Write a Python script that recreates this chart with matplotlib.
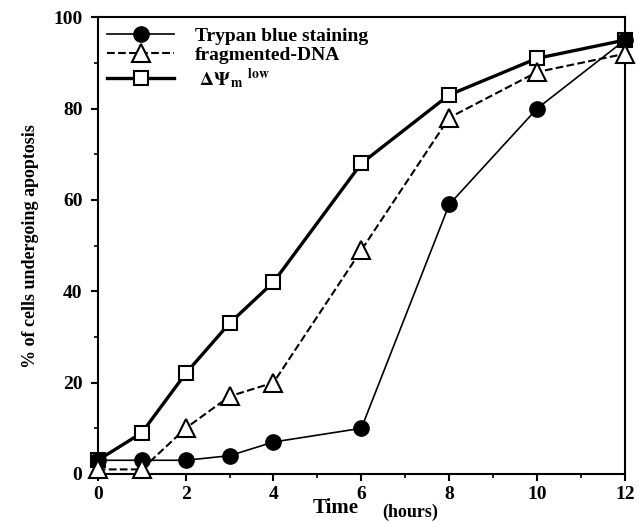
import numpy as np
import matplotlib
matplotlib.use("Agg")
import matplotlib.pyplot as plt

plt.rcParams['font.family'] = ['Liberation Serif', 'DejaVu Serif']
plt.rcParams['font.weight'] = 'bold'
plt.rcParams['mathtext.fontset'] = 'stix'

time_h = [0, 1, 2, 3, 4, 6, 8, 10, 12]
trypan = [3, 3, 3, 4, 7, 10, 59, 80, 95]
frag_dna = [1, 1, 10, 17, 20, 49, 78, 88, 92]
dpsi_low = [3, 9, 22, 33, 42, 68, 83, 91, 95]
labels = ['Trypan blue staining', 'fragmented-DNA', r' $\Delta\Psi_{\rm m}$ $^{\rm low}$']

fig = plt.figure(figsize=(6.39, 5.22), dpi=100)
ax = fig.add_axes([0.153, 0.092, 0.825, 0.875])

ax.plot(time_h, trypan, '-', color='black', lw=1.2, marker='o', ms=11,
        mfc='black', mec='black', label=labels[0], zorder=4, clip_on=False)
ax.plot(time_h, frag_dna, '--', color='black', lw=1.5, marker='^', ms=13,
        mfc='white', mec='black', mew=1.5, label=labels[1], zorder=5, clip_on=False)
ax.plot(time_h, dpsi_low, '-', color='black', lw=2.4, marker='s', ms=10,
        mfc='white', mec='black', mew=1.5, label=labels[2], zorder=3, clip_on=False)

ax.set_xlim(0, 12)
ax.set_ylim(0, 100)
ax.set_xticks(range(0, 13, 2))
ax.set_xticks(range(1, 13, 2), minor=True)
ax.set_yticks(range(0, 101, 20))
ax.set_yticks(range(10, 100, 20), minor=True)
ax.tick_params(axis='both', which='major', direction='out', length=5, width=1.5,
               labelsize=14)
ax.tick_params(axis='x', which='major', pad=4)
ax.tick_params(axis='y', which='major', pad=6)
ax.tick_params(axis='both', which='minor', direction='out', length=3, width=1.2)
for lab in ax.get_xticklabels() + ax.get_yticklabels():
    lab.set_fontweight('bold')
for sp in ax.spines.values():
    sp.set_linewidth(1.5)

ax.set_ylabel('% of cells undergoing apoptosis', fontsize=13, fontweight='bold', labelpad=10)
ax.text(0.408, -0.074, 'Time', transform=ax.transAxes, fontsize=15,
        fontweight='bold', ha='left', va='center')
ax.text(0.54, -0.085, '(hours)', transform=ax.transAxes, fontsize=13,
        fontweight='bold', ha='left', va='center')

leg = ax.legend(loc='upper left', frameon=False, fontsize=14, handlelength=3.4,
                borderaxespad=0.1, labelspacing=0.1, handletextpad=1.1)
for t in leg.get_texts():
    t.set_fontweight('bold')

fig.savefig('out.png', dpi=100)
